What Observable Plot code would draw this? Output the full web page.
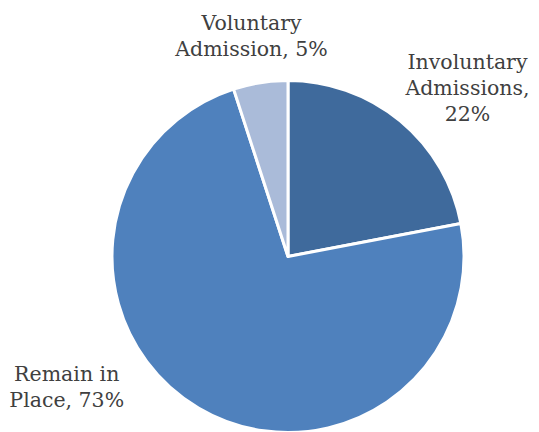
<!DOCTYPE html>
<html><head><meta charset="utf-8">
<script src="https://cdn.jsdelivr.net/npm/d3@7"></script>
<script src="https://cdn.jsdelivr.net/npm/@observablehq/plot@0.6"></script>
<style>body{margin:0;background:#fff}</style>
</head><body><div id="chart"></div>
<script>
// Data
const categories = ["Involuntary Admissions", "Remain in Place", "Voluntary Admission"];
const values = [22, 73, 5];
const labelTexts = ["Involuntary\nAdmissions,\n22%", "Remain in\nPlace, 73%", "Voluntary\nAdmission, 5%"];
const sliceColors = ["#3F6A9C", "#4F81BD", "#AABBD9"];
// Label placement (in pie-radius units from center)
const labelX = [1.017, -1.26, -0.21];
const labelY = [0.77, -0.85, 1.14];

const W = 539, H = 432, CX = 288, CY = 256.5, R = 176;
const rows = categories.map((c, i) => ({category: c, value: values[i], label: labelTexts[i], lx: labelX[i], ly: labelY[i]}));

function pieMark(data) {
  return (index, scales) => {
    const cx = scales.x(0), cy = scales.y(0), r = scales.x(1) - scales.x(0);
    const arcs = d3.pie().sort(null).value(d => d.value)(data);
    const arc = d3.arc().innerRadius(0).outerRadius(r);
    const g = d3.create("svg:g").attr("transform", `translate(${cx},${cy})`);
    g.selectAll("path").data(arcs).join("path")
      .attr("d", arc)
      .attr("fill", (d, i) => sliceColors[categories.indexOf(d.data.category)])
      .attr("stroke", "white")
      .attr("stroke-width", 3)
      .attr("stroke-linejoin", "round");
    return g.node();
  };
}

const chart = Plot.plot({
  width: W, height: H,
  margin: 0,
  x: {domain: [-CX / R, (W - CX) / R], range: [0, W], axis: null},
  y: {domain: [-(H - CY) / R, CY / R], range: [H, 0], axis: null},
  style: {background: "#fff"},
  marks: [
    pieMark(rows),
    Plot.text(rows, {
      x: "lx", y: "ly", text: "label",
      textAnchor: "middle", lineAnchor: "bottom",
      fontSize: 20.5, lineHeight: 26 / 20.5,
      fill: "#404040",
      fontFamily: "DejaVu Serif"
    })
  ]
});
document.getElementById("chart").appendChild(chart);
</script>
</body></html>
